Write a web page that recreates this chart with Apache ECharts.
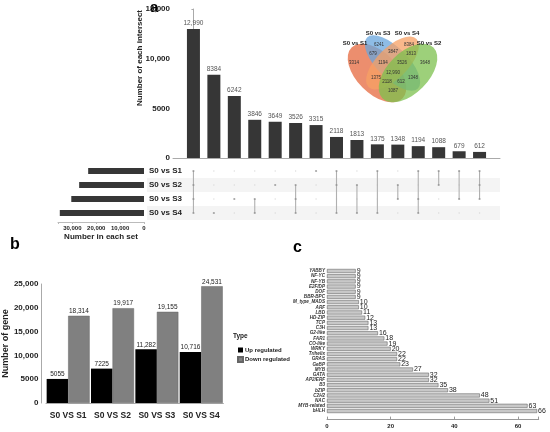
<!DOCTYPE html>
<html>
<head>
<meta charset="utf-8">
<script src="https://cdn.jsdelivr.net/npm/echarts@6/dist/echarts.min.js"></script>
<style>
html,body{margin:0;padding:0;background:#fff}
#main{width:550px;height:432px}
</style>
</head>
<body>
<div id="main"></div>
<script>
// panel a : upset
var setNames = ['S0 vs S1', 'S0 vs S2', 'S0 vs S3', 'S0 vs S4'];
var setSizes = [23369, 27142, 30437, 35247];
var interSizes = [12990, 8384, 6242, 3846, 3649, 3526, 3315, 2118, 1813, 1375, 1348, 1194, 1088, 679, 612];
// index into setNames
var interSets = [[0,1,2,3],[3],[2],[2,3],[1],[1,2,3],[0],[0,1,3],[1,3],[0,3],[1,2],[0,2,3],[0,1],[0,2],[0,1,2]];

// panel a : venn
var vennSets = ['S0 vs S1', 'S0 vs S3', 'S0 vs S4', 'S0 vs S2'];
var vennCounts = ['6241','8384','679','3847','1813','3314','1194','3526','3648','12,990','1375','1348','2118','612','1087'];

// panel b
var groupNames = ['S0 VS S1', 'S0 VS S2', 'S0 VS S3', 'S0 VS S4'];
var upReg = [5055, 7225, 11282, 10716];
var downReg = [18314, 19917, 19155, 24531];

// panel c
var tfFamilies = ['YABBY','NF-YC','NF-YB','E2F/DP','DOF','BBR-BPC','M_type_MADS','ARF','LBD','HD-ZIP','TCP','C3H',
  'G2-like','FAR1','CO-like','WRKY','Trihelix','GRAS','GeBP','MYB','GATA','AP2/ERF','B3','bZIP','C2H2','NAC','MYB-related','bHLH'];
var tfCounts = [9,9,9,9,9,9,10,10,11,12,13,13,16,18,19,20,22,22,23,27,32,32,35,38,48,51,63,66];

var FONT = 'Liberation Sans';
function fmt(v){ return v >= 10000 ? v.toLocaleString('en-US') : String(v); }

// matrix points
var memberPts = [], otherPts = [], linkData = [];
interSets.forEach(function(s, i){
  for (var r = 0; r < setNames.length; r++) {
    if (s.indexOf(r) >= 0) memberPts.push([i, r]); else otherPts.push([i, r]);
  }
  linkData.push([i, Math.min.apply(null, s), Math.max.apply(null, s)]);
});

// venn layout (pixels)
var ellipses = [
  {x:377, y:73, a:36, b:20.5, rot:-Math.PI/4, color:'#e5683e'},
  {x:392.5, y:63, a:36, b:15.5, rot:-Math.PI/4, color:'#68a6de'},
  {x:392.5, y:63, a:34, b:15.5, rot:Math.PI/4, color:'#f7a064'},
  {x:408, y:73, a:36, b:20.5, rot:Math.PI/4, color:'#7cc04e'}
];
var setLabelPos = [[355,43],[378,33],[407,33],[429,43]];
var countPos = [[379,45],[409,45],[373,54],[393,52],[411,54],[354,63],[383,63],[402,63],[425,63],
  [393,73],[376,78],[413,78],[387,82],[401,82],[393,91]];

var graphics = [];
ellipses.forEach(function(e){
  graphics.push({type:'circle', x:e.x, y:e.y, rotation:e.rot, scaleY:e.b/e.a, z:10,
    shape:{cx:0, cy:0, r:e.a}, style:{fill:e.color, opacity:0.75}});
});
vennSets.forEach(function(n, i){
  graphics.push({type:'text', x:setLabelPos[i][0], y:setLabelPos[i][1], z:12,
    style:{text:n, font:'bold 6px ' + FONT, fill:'#222', textAlign:'center', textVerticalAlign:'middle'}});
});
vennCounts.forEach(function(n, i){
  graphics.push({type:'text', x:countPos[i][0], y:countPos[i][1], z:12,
    style:{text:n, font:'4.5px ' + FONT, fill:'#333', textAlign:'center', textVerticalAlign:'middle'}});
});
// panel letters and odd titles
graphics.push({type:'text', x:150, y:0, style:{text:'a', font:'bold 15px ' + FONT, fill:'#000'}});
graphics.push({type:'text', x:10, y:237, style:{text:'b', font:'bold 16px ' + FONT, fill:'#000'}});
graphics.push({type:'text', x:293, y:240, style:{text:'c', font:'bold 16px ' + FONT, fill:'#000'}});
graphics.push({type:'text', x:140, y:58, rotation:Math.PI/2,
  style:{text:'Number of each intersect', font:'bold 8px ' + FONT, fill:'#222', textAlign:'center', textVerticalAlign:'middle'}});
graphics.push({type:'text', x:233, y:333, style:{text:'Type', font:'bold 6.5px ' + FONT, fill:'#222'}});

var chart = echarts.init(document.getElementById('main'));
chart.setOption({
  animation: false,
  backgroundColor: '#fff',
  textStyle: {fontFamily: FONT},
  graphic: graphics,
  legend: {
    data: ['Up regulated', 'Down regulated'], orient: 'vertical', left: 232, top: 342,
    icon: 'rect', itemWidth: 5, itemHeight: 5, itemGap: 3,
    textStyle: {fontSize: 6, fontWeight: 'bold', color: '#222', fontFamily: FONT, padding: [0,0,0,-3]}
  },
  grid: [
    {left: 173, right: 50, top: 9, bottom: 274},     // intersections
    {left: 58, right: 406, top: 164, bottom: 212},   // set sizes
    {left: 147, right: 50, top: 164, bottom: 212},   // matrix
    {left: 44.6, right: 326.6, top: 284, bottom: 29},// b
    {left: 327, right: 11.3, top: 268.4, bottom: 18.4} // c
  ],
  xAxis: [
    {gridIndex: 0, type: 'value', min: -1, max: 15, show: true,
      axisLine: {show: true, lineStyle: {color: '#aaa'}}, axisTick: {show: false},
      axisLabel: {show: false}, splitLine: {show: false}},
    {gridIndex: 1, type: 'value', inverse: true, min: 0, max: 36000, interval: 10000, offset: 2,
      axisLine: {show: true, lineStyle: {color: '#bbb'}}, axisTick: {show: true, length: 2, lineStyle: {color: '#bbb'}},
      splitLine: {show: false},
      axisLabel: {fontSize: 6, fontWeight: 'bold', color: '#222', margin: 3,
        formatter: function(v){ return v % 10000 === 0 ? fmt(v) : ''; }},
      name: 'Number in each set', nameLocation: 'middle', nameGap: 11,
      nameTextStyle: {fontSize: 8, fontWeight: 'bold', color: '#222'}},
    {gridIndex: 2, type: 'value', min: -2.272, max: 15, show: false},
    {gridIndex: 3, type: 'category', data: groupNames,
      axisLine: {lineStyle: {color: '#aaa'}}, axisTick: {show: false},
      axisLabel: {interval: 0, fontSize: 8.5, fontWeight: 'bold', color: '#222', margin: 8}},
    {gridIndex: 4, type: 'value', min: 0, max: 66.5, interval: 20, offset: 6,
      axisLine: {show: true, lineStyle: {color: '#999'}}, axisTick: {show: true, inside: true, length: 3, lineStyle: {color: '#999'}},
      splitLine: {show: false},
      axisLabel: {fontSize: 6, fontWeight: 'bold', color: '#222', margin: 4,
        formatter: function(v){ return v % 20 === 0 ? String(v) : ''; }}}
  ],
  yAxis: [
    {gridIndex: 0, type: 'value', min: 0, max: 15000, interval: 5000,
      axisLine: {show: true, lineStyle: {color: '#aaa'}}, axisTick: {show: true, length: 2, lineStyle: {color: '#aaa'}},
      splitLine: {show: false},
      axisLabel: {fontSize: 8, fontWeight: 'bold', color: '#222', margin: 3, formatter: fmt}},
    {gridIndex: 1, type: 'category', data: setNames, inverse: true, position: 'right',
      axisLine: {show: false}, axisTick: {show: false},
      axisLabel: {interval: 0, fontSize: 8, fontWeight: 'bold', color: '#222', margin: 5}},
    {gridIndex: 2, type: 'category', data: setNames, inverse: true,
      axisLine: {show: false}, axisTick: {show: false}, axisLabel: {show: false},
      splitLine: {show: false},
      splitArea: {show: true, interval: 0, areaStyle: {color: ['rgba(255,255,255,0)', '#f4f4f4']}}},
    {gridIndex: 3, type: 'value', min: 0, max: 25000, interval: 5000, offset: 4.6,
      axisLine: {show: true, lineStyle: {color: '#aaa'}}, axisTick: {show: false},
      splitLine: {show: false},
      axisLabel: {fontSize: 8, fontWeight: 'bold', color: '#222', margin: 3, formatter: fmt},
      name: 'Number of gene', nameLocation: 'middle', nameGap: 28,
      nameTextStyle: {fontSize: 9, fontWeight: 'bold', color: '#222'}},
    {gridIndex: 4, type: 'category', data: tfFamilies, inverse: true,
      axisLine: {show: false}, axisTick: {show: false},
      axisLabel: {interval: 0, fontSize: 4.6, fontStyle: 'italic', fontWeight: 'bold', color: '#333', margin: 2}}
  ],
  series: [
    {type: 'bar', xAxisIndex: 0, yAxisIndex: 0, barWidth: 13,
      data: interSizes.map(function(v, i){ return [i, v]; }),
      itemStyle: {color: '#363636'},
      label: {show: true, position: 'top', distance: 2, fontSize: 6.5, color: '#555',
        formatter: function(p){ return fmt(p.value[1]); }}},
    {type: 'bar', xAxisIndex: 1, yAxisIndex: 1, barWidth: 6, data: setSizes,
      itemStyle: {color: '#363636'}},
    {type: 'scatter', xAxisIndex: 2, yAxisIndex: 2, data: otherPts, symbolSize: 1.4,
      itemStyle: {color: '#d2d2d2'}, z: 3},
    {type: 'custom', xAxisIndex: 2, yAxisIndex: 2, data: linkData, z: 4,
      renderItem: function(params, api){
        var p1 = api.coord([api.value(0), api.value(1)]);
        var p2 = api.coord([api.value(0), api.value(2)]);
        return {type: 'line', shape: {x1: p1[0], y1: p1[1], x2: p2[0], y2: p2[1]},
          style: {stroke: '#b0b0b0', lineWidth: 1.1}};
      }},
    {type: 'scatter', xAxisIndex: 2, yAxisIndex: 2, data: memberPts, symbolSize: 2.2,
      itemStyle: {color: '#909090'}, z: 5},
    {name: 'Up regulated', type: 'bar', xAxisIndex: 3, yAxisIndex: 3, data: upReg,
      barWidth: 21.5, barGap: '0%', itemStyle: {color: '#000'},
      label: {show: true, position: 'top', distance: 1, fontSize: 6.5, color: '#222',
        formatter: function(p){ return fmt(p.value); }}},
    {name: 'Down regulated', type: 'bar', xAxisIndex: 3, yAxisIndex: 3, data: downReg,
      barWidth: 21.5, barGap: '0%', itemStyle: {color: '#808080', borderColor: '#666', borderWidth: 0.5},
      label: {show: true, position: 'top', distance: 1, fontSize: 6.5, color: '#222',
        formatter: function(p){ return fmt(p.value); }}},
    {type: 'bar', xAxisIndex: 4, yAxisIndex: 4, data: tfCounts, barWidth: 4,
      itemStyle: {color: '#c8c8c8', borderColor: '#555', borderWidth: 0.5},
      label: {show: true, position: 'right', distance: 1, fontSize: 7, color: '#222'}}
  ]
});
</script>
</body>
</html>
